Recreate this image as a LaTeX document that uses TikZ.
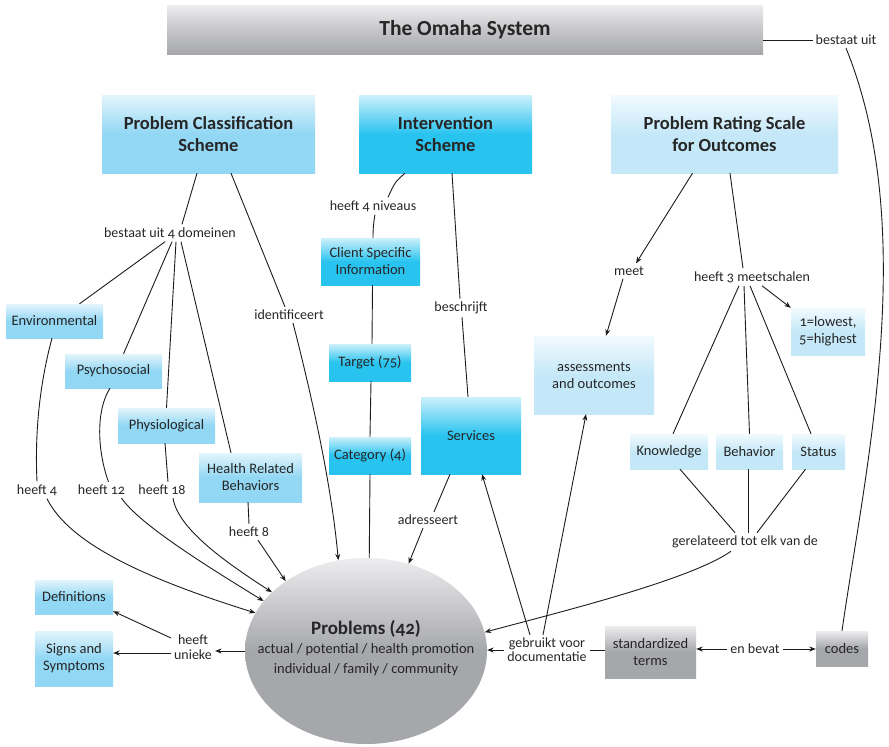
\documentclass[tikz,border=0pt]{standalone}
\usepackage{fontspec}
\setmainfont{Carlito}[Numbers=OldStyle]
\usetikzlibrary{arrows.meta,shapes.geometric}

\definecolor{ink}{HTML}{262626}
\definecolor{wirec}{HTML}{1C1C1C}
\definecolor{skyTop}{HTML}{E3F5FC}
\definecolor{sky}{HTML}{92D7F4}
\definecolor{cyanTop}{HTML}{CDF0FB}
\definecolor{cyanMain}{HTML}{29C3F0}
\definecolor{iceTop}{HTML}{F2FAFE}
\definecolor{ice}{HTML}{C5E8F8}
\definecolor{greyTop}{HTML}{EDEDEF}
\definecolor{greyMain}{HTML}{A6A7AB}

\tikzset{
  x=1pt, y=-1pt,
  base/.style={rectangle, inner sep=2pt, align=center, text=ink,
    font=\fontsize{14.5}{17}\selectfont},
  skybox/.style={base, top color=skyTop, bottom color=sky, middle color=sky},
  cyanbox/.style={base, top color=cyanTop, bottom color=cyanMain, middle color=cyanMain},
  icebox/.style={base, top color=iceTop, bottom color=ice, middle color=ice},
  greybox/.style={base, top color=greyTop, bottom color=greyMain, middle color=greyMain},
  headfont/.style={font=\fontsize{18.5}{22}\selectfont\bfseries},
  lbl/.style={base, inner sep=3pt, font=\fontsize{14}{15.5}\selectfont},
  wire/.style={draw=wirec, line width=0.9pt},
  arr/.style={wire, -{Stealth[length=6.5pt,width=5pt]}},
}

\begin{document}
\begin{tikzpicture}
\useasboundingbox (0,0) rectangle (889,747);

% ---------- main schemes ----------
\node[greybox, top color=greyTop, bottom color=greyMain, middle color=greyTop!45!greyMain,
      minimum width=596, minimum height=49,
      font=\fontsize{21.5}{25}\selectfont\bfseries] (omaha) at (465,29.5) {The Omaha System};
\node[skybox, headfont, minimum width=213, minimum height=78] (pcs) at (208.5,134)
  {Problem Classification\\Scheme};
\node[cyanbox, headfont, minimum width=173, minimum height=78] (is) at (445.5,134)
  {Intervention\\Scheme};
\node[icebox, headfont, minimum width=227, minimum height=78] (prs) at (724.5,134)
  {Problem Rating Scale\\for Outcomes};

% ---------- classification domains ----------
\node[skybox, minimum width=97, minimum height=34] (env) at (54.5,321) {Environmental};
\node[skybox, minimum width=97, minimum height=34] (psy) at (113.5,371) {Psychosocial};
\node[skybox, minimum width=97, minimum height=35] (phys) at (166.5,425.5) {Physiological};
\node[skybox, minimum width=103, minimum height=49] (hrb) at (250.5,477.5) {Health Related\\Behaviors};
\node[skybox, minimum width=78, minimum height=34] (defs) at (74,597) {Definitions};
\node[skybox, minimum width=78, minimum height=55] (signs) at (74,658.5) {Signs and\\Symptoms};

% ---------- intervention levels ----------
\node[cyanbox, minimum width=99, minimum height=47] (csi) at (370.5,261.5) {Client Specific\\Information};
\node[cyanbox, minimum width=82, minimum height=37] (target) at (370,362.5) {Target (75)};
\node[cyanbox, minimum width=82, minimum height=37] (category) at (370,455.5) {Category (4)};
\node[cyanbox, minimum width=100, minimum height=77] (services) at (471,435.5) {Services};

% ---------- rating scale ----------
\node[icebox, minimum width=120, minimum height=78] (assess) at (594,375) {assessments\\and outcomes};
\node[icebox, minimum width=74, minimum height=47] (low) at (828,331.5) {1=lowest,\\5=highest};
\node[icebox, minimum width=78, minimum height=35] (know) at (669,451.5) {Knowledge};
\node[icebox, minimum width=67, minimum height=35] (behav) at (749.5,451.5) {Behavior};
\node[icebox, minimum width=53, minimum height=35] (status) at (818.5,451.5) {Status};

% ---------- terms and codes ----------
\node[greybox, minimum width=91, minimum height=52] (std) at (650.5,652) {standardized\\terms};
\node[greybox, minimum width=52, minimum height=35] (codes) at (842,648.5) {codes};

% ---------- central problem node ----------
\node[ellipse, inner sep=0pt, minimum width=242, minimum height=186,
      top color=greyTop, bottom color=greyMain, middle color=greyMain] (problems) at (366,651) {};
\node[align=center, text=ink, inner sep=0pt, font=\fontsize{14.5}{19.5}\selectfont] (probtext)
  at ([yshift=3pt]problems.center)
  {{\fontsize{19}{20}\selectfont\bfseries Problems (42)}\\
   actual / potential / health promotion\\
   individual / family / community};

% ---------- link phrases ----------
\node[lbl] (bu)     at (846,40)  {bestaat uit};
\node[lbl] (b4d)    at (170,233) {bestaat uit 4 domeinen};
\node[lbl] (ident)  at (289,315) {identificeert};
\node[lbl] (h4)     at (37,490)  {heeft 4};
\node[lbl] (h12)    at (101.5,490) {heeft 12};
\node[lbl] (h18)    at (162,490) {heeft 18};
\node[lbl] (h8)     at (249,532) {heeft 8};
\node[lbl] (h4n)    at (373,206) {heeft 4 niveaus};
\node[lbl] (beschr) at (461,308) {beschrijft};
\node[lbl] (adres)  at (428,520) {adresseert};
\node[lbl] (meet)   at (629,271) {meet};
\node[lbl] (h3m)    at (752,277) {heeft 3 meetschalen};
\node[lbl] (gerel)  at (745,542) {gerelateerd tot elk van de};
\node[lbl, font=\fontsize{14}{14}\selectfont] (gebr) at (547,650) {gebruikt voor\\documentatie};
\node[lbl] (enb)    at (755,649) {en bevat};
\node[lbl, font=\fontsize{14}{15}\selectfont] (hu) at (193,647) {heeft\\unieke};

% ---------- connectors ----------
\draw[wire] (omaha.east |- bu.west) -- (bu.west);
\draw[wire] (bu.south) .. controls (920,230) and (865,470) .. (codes.north);

\draw[wire] ([xshift=-11.5pt]pcs.south) -- ([xshift=12pt]b4d.north);
\draw[wire] ([xshift=-5pt]b4d.south) -- ([xshift=25pt]env.north);
\draw[wire] ([xshift=2pt]b4d.south) -- ([xshift=10pt]psy.north);
\draw[wire] ([xshift=6pt]b4d.south) -- (phys.north);
\draw[wire] ([xshift=11pt]b4d.south) -- ([xshift=-19.5pt]hrb.north);

\draw[wire] ([xshift=22.5pt]pcs.south) -- ([xshift=-4pt]ident.north);
\draw[arr] ([xshift=4pt]ident.south) .. controls (318,420) and (333,500) .. (problems.107);

\draw[wire] ([xshift=-2.5pt]env.south) .. controls (38,390) and (35,440) .. (h4.north);
\draw[arr] ([xshift=10pt]h4.south) .. controls (70,545) and (150,580) .. (problems.161);
\draw[wire] ([xshift=-3.5pt]psy.south) .. controls (96,410) and (97,450) .. ([xshift=7pt]h12.north);
\draw[arr] ([xshift=20pt]h12.south) .. controls (140,525) and (210,568) .. (problems.154);
\draw[wire] ([xshift=-1.5pt]phys.south) -- ([xshift=6pt]h18.north);
\draw[arr] ([xshift=11pt]h18.south) .. controls (178,530) and (230,565) .. (problems.148);
\draw[wire] ([xshift=-2.5pt]hrb.south) -- (h8.north);
\draw[arr] ([xshift=9pt]h8.south) -- (problems.139);

\draw[wire] ([xshift=-40.5pt]is.south) .. controls (395,182) .. ([xshift=15pt]h4n.north);
\draw[wire] ([xshift=2pt]h4n.south) to[out=-100,in=90] ([xshift=2.5pt]csi.north);
\draw[wire] ([xshift=2pt]csi.south) -- ([xshift=2pt]target.north);
\draw[wire] ([xshift=1pt]target.south) -- (category.north);
\draw[wire] (category.south) -- (problems.88);

\draw[wire] ([xshift=6.5pt]is.south) -- ([xshift=-1pt]beschr.north);
\draw[wire] ([xshift=1pt]beschr.south) -- ([xshift=-3pt]services.north);
\draw[wire] ([xshift=-21pt]services.south) -- ([xshift=6pt]adres.north);
\draw[arr] ([xshift=-5pt]adres.south) -- (problems.64);

\draw[arr] ([xshift=-32pt]prs.south) -- ([xshift=7pt]meet.north);
\draw[arr] ([xshift=-6pt]meet.south) -- ([xshift=12pt]assess.north);
\draw[wire] ([xshift=5.5pt]prs.south) -- ([xshift=-9pt]h3m.north);
\draw[arr] ([xshift=10pt]h3m.south) -- (low.north west);
\draw[wire] ([xshift=-13pt]h3m.south) -- ([xshift=4pt]know.north);
\draw[wire] ([xshift=-8pt]h3m.south) -- (behav.north);
\draw[wire] ([xshift=-2pt]h3m.south) -- ([xshift=-7.5pt]status.north);
\draw[wire] ([xshift=11pt]know.south) -- ([xshift=-10pt]gerel.north);
\draw[wire] ([xshift=-1.5pt]behav.south) -- ([xshift=3pt]gerel.north);
\draw[wire] ([xshift=-13pt]status.south) -- ([xshift=12pt]gerel.north);
\draw[arr] ([xshift=-14pt]gerel.south) .. controls (690,580) and (560,612) .. (problems.9);

\draw[arr] (gebr.west) -- (gebr.west -| problems.east);
\draw[wire] (gebr.east) -- (gebr.east -| std.west);
\draw[arr] ([xshift=-17pt]gebr.north) -- ([xshift=11pt]services.south);
\draw[arr] ([xshift=-4pt]gebr.north) -- ([xshift=-8pt]assess.south);
\draw[arr] (enb.west) -- (enb.west -| std.east);
\draw[arr] (enb.east) -- (enb.east -| codes.west);

\draw[arr] (problems.west) -- (problems.west -| hu.east);
\draw[arr] ([yshift=9pt]hu.west) -- ([yshift=3pt]defs.south east);
\draw[arr] ([yshift=-6pt]hu.west) -- ([yshift=5.5pt]signs.east);
\end{tikzpicture}
\end{document}
